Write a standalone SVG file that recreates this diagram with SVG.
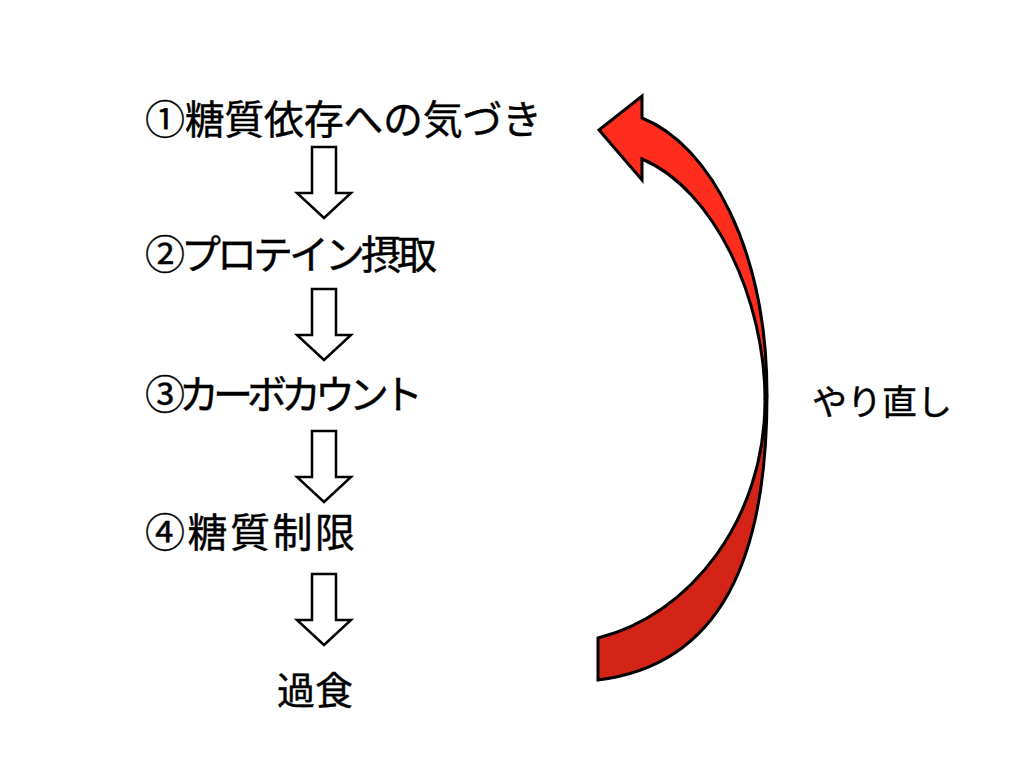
<svg xmlns="http://www.w3.org/2000/svg" width="1024" height="769" viewBox="0 0 1024 769">
<style>
.t{font-family:"Noto Sans CJK JP","Noto Sans CJK SC",sans-serif;font-size:40px;font-weight:400;fill:#000;stroke:#000;stroke-width:0.4}
.da{fill:#fff;stroke:#000;stroke-width:2.5;stroke-linejoin:miter}
.rc{stroke:#000;stroke-width:3;stroke-linejoin:miter}
</style>
<rect width="1024" height="769" fill="#fff"/>
<defs>
<polygon id="down" class="da" points="312,0 336,0 336,46 351,46 324,71 297,46 312,46"/>
</defs>
<g id="n1"><text class="t" x="145" y="134" textLength="397" lengthAdjust="spacing">①糖質依存への気づき</text></g>
<g id="n2"><text class="t" x="145" y="269" textLength="292" lengthAdjust="spacing">②プロテイン摂取</text></g>
<g id="n3"><text class="t" x="145" y="409" textLength="278" lengthAdjust="spacing">③カーボカウント</text></g>
<g id="n4"><text class="t" x="145" y="547" textLength="210" lengthAdjust="spacing">④糖質制限</text></g>
<g id="n5"><text class="t" x="277" y="704" style="font-size:38px">過食</text></g>
<g id="n6"><text class="t" x="812" y="415" style="font-size:35px">やり直し</text></g>
<g id="connectors">
<use href="#down" y="147"/>
<use href="#down" y="289"/>
<use href="#down" y="431"/>
<use href="#down" y="574"/>
<g id="loop">
<path class="rc" fill="#d42417" d="M767,395 C767,560 720,665 598,680 L598,638 C690,615 765,520 765,400 Z"/>
<path class="rc" fill="#ff2d1e" d="M599,130 L642,96 L642,118 C710,145 767,250 767,395 L765,400 C765,300 715,190 642,159 L642,180 Z"/>
</g>
</g>
</svg>
